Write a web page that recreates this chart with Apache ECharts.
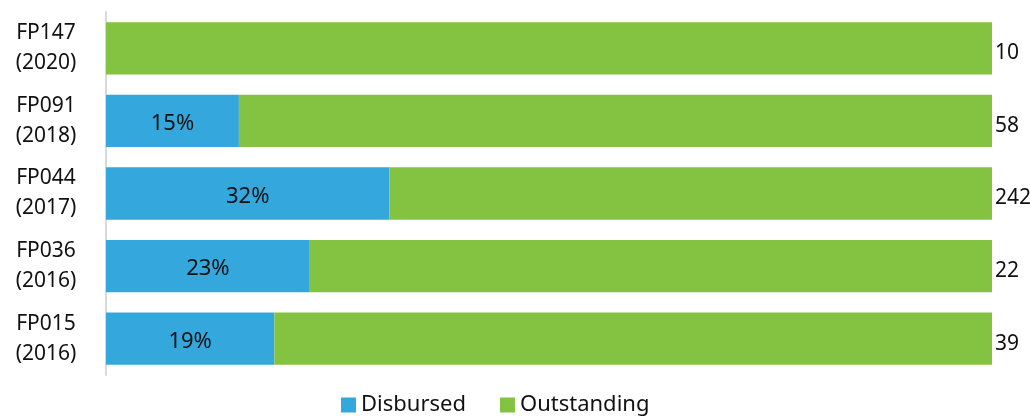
<!DOCTYPE html>
<html><head><meta charset="utf-8">
<script src="https://cdn.jsdelivr.net/npm/echarts@6/dist/echarts.min.js"></script>
<style>html,body{margin:0;padding:0;background:#fff}#c{width:1030px;height:416px}</style>
</head><body><div id="c"></div>
<script>
const categories = ['FP015\n(2016)', 'FP036\n(2016)', 'FP044\n(2017)', 'FP091\n(2018)', 'FP147\n(2020)'];
const disbursed = [19, 23, 32, 15, 0];
const outstanding = [81, 77, 68, 85, 100];
const totals = [39, 22, 242, 58, 10];

const chart = echarts.init(document.getElementById('c'));
const font = 'Noto Sans';
chart.setOption({
  animation: false,
  textStyle: { fontFamily: font },
  grid: { left: 106, right: 38, top: 12, bottom: 41 },
  legend: {
    bottom: -5, left: 336,
    itemWidth: 15, itemHeight: 15, itemGap: 34,
    icon: 'rect',
    textStyle: { fontSize: 22, color: '#111', fontFamily: font },
    data: ['Disbursed', 'Outstanding']
  },
  xAxis: { type: 'value', min: 0, max: 100, show: false },
  yAxis: {
    type: 'category', data: categories,
    axisLine: { lineStyle: { color: '#d9d9d9', width: 2 } },
    axisTick: { show: false },
    axisLabel: { fontSize: 21, color: '#111', lineHeight: 30, align: 'center', margin: 60, fontFamily: font }
  },
  series: [
    {
      name: 'Disbursed', type: 'bar', stack: 't', data: disbursed,
      barCategoryGap: '28%',
      itemStyle: { color: '#34a7dd' },
      label: {
        show: true, position: 'inside', offset: [0, 3], color: '#111', fontSize: 22, fontFamily: font,
        formatter: p => p.value > 0 ? p.value + '%' : ''
      }
    },
    {
      name: 'Outstanding', type: 'bar', stack: 't', data: outstanding,
      itemStyle: { color: '#84c341' },
      label: {
        show: true, position: 'right', distance: 3, offset: [0, 5], color: '#111', fontSize: 21, fontFamily: font,
        formatter: p => String(totals[p.dataIndex])
      }
    }
  ]
});
</script></body></html>
